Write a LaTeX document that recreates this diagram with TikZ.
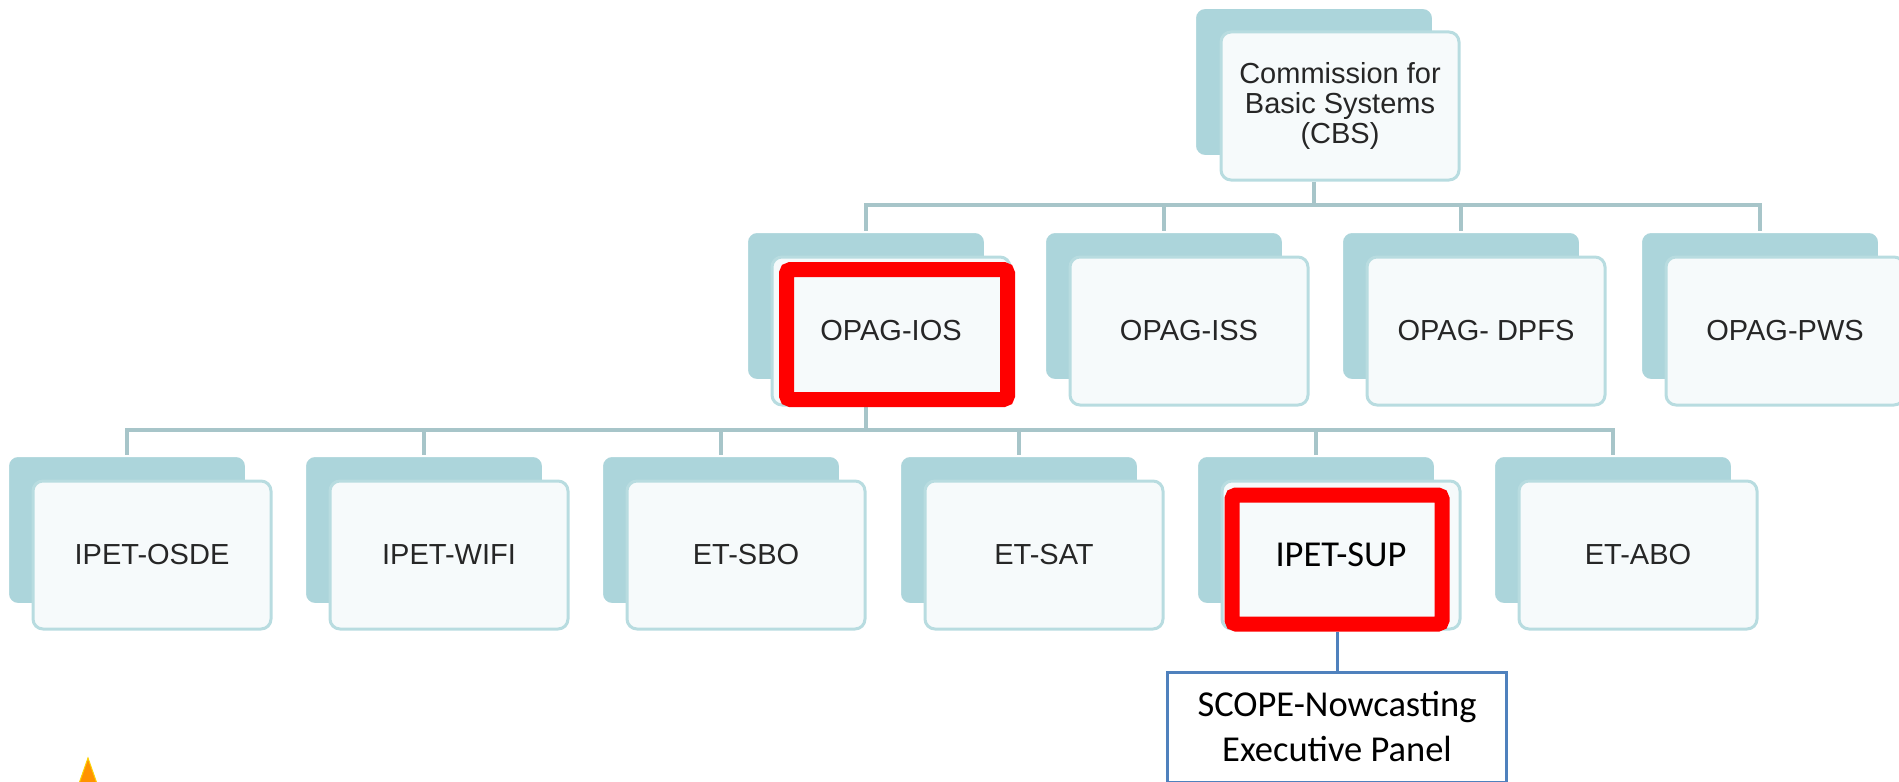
\documentclass[tikz,border=0pt]{standalone}
\usepackage{fontspec}
\setmainfont{Liberation Sans}
\newfontfamily\calibrifont{Carlito}
\usetikzlibrary{positioning, calc}

\definecolor{backteal}{HTML}{ACD5DB}
\definecolor{frontline}{HTML}{B8DCE0}
\definecolor{frontfill}{HTML}{F6FAFB}
\definecolor{connline}{HTML}{A7C5C9}
\definecolor{panelblue}{HTML}{4F81BD}

\begin{document}
\begin{tikzpicture}[x=0.5pt, y=-0.5pt,
    back/.style={rounded corners=5pt, fill=backteal, draw=white, line width=1pt,
        minimum width=119pt, minimum height=74pt, inner sep=0pt},
    front/.style={rounded corners=5pt, fill=frontfill, draw=frontline, line width=1.5pt,
        minimum width=119pt, minimum height=74pt, inner sep=0pt, align=center,
        text=black!85, font=\fontsize{14.5}{15}\selectfont},
    conn/.style={draw=connline, line width=2pt},
    redbox/.style={draw=red, line width=7.5pt, rounded corners=2pt, inner sep=0pt}]
    \useasboundingbox (0,0) rectangle (1899,781);
    \clip (0,0) rectangle (1899,781);

    % Bus lines
    \coordinate (bus1) at (1314,205);
    \coordinate (bus2) at (866,430);

    % Level 1: CBS
    \node[back] (cbsB) at (1314,82) {};
    \node[front] (cbsF) at (1340,106) {Commission for\\Basic Systems\\(CBS)};

    % Level 2: OPAGs
    \node[back] (iosB) at (866,306) {};
    \node[back] (issB) at (1164,306) {};
    \node[back] (dpfsB) at (1461,306) {};
    \node[back] (pwsB) at (1760,306) {};

    \draw[conn] (cbsB |- cbsF.south) -- (bus1) -| (iosB.north);
    \draw[conn] (bus1) -| (issB.north);
    \draw[conn] (bus1) -| (dpfsB.north);
    \draw[conn] (bus1) -| (pwsB.north);

    \node[front] (iosF) at (891,331) {OPAG-IOS};
    \node[front] (issF) at (1189,331) {OPAG-ISS};
    \node[front] (dpfsF) at (1486,331) {OPAG- DPFS};
    \node[front] (pwsF) at (1785,331) {OPAG-PWS};

    % Level 3: teams
    \node[back] (osdeB) at (127,530) {};
    \node[back] (wifiB) at (424,530) {};
    \node[back] (sboB) at (721,530) {};
    \node[back] (satB) at (1019,530) {};
    \node[back] (supB) at (1316,530) {};
    \node[back] (aboB) at (1613,530) {};

    \draw[conn] (iosB |- iosF.south) -- (bus2) -| (osdeB.north);
    \draw[conn] (bus2) -| (wifiB.north);
    \draw[conn] (bus2) -| (sboB.north);
    \draw[conn] (bus2) -| (satB.north);
    \draw[conn] (bus2) -| (supB.north);
    \draw[conn] (bus2) -| (aboB.north);

    \node[front] (osdeF) at (152,555) {IPET-OSDE};
    \node[front] (wifiF) at (449,555) {IPET-WIFI};
    \node[front] (sboF) at (746,555) {ET-SBO};
    \node[front] (satF) at (1044,555) {ET-SAT};
    \node[front, font=\calibrifont\fontsize{18.25}{20}\selectfont, text=black] (supF) at (1341,555) {IPET-SUP};
    \node[front] (aboF) at (1638,555) {ET-ABO};

    % Highlights
    \node[redbox, minimum width=110.5pt, minimum height=65pt] (iosR) at (897,334.5) {};
    \node[redbox, minimum width=105pt, minimum height=64.5pt] (supR) at (1337,559.5) {};

    % Nowcasting panel
    \node[draw=panelblue, line width=1.5pt, minimum width=169.5pt, minimum height=55pt,
        align=center, font=\calibrifont\fontsize{18.25}{22.5}\selectfont] (scope) at (1337,727)
        {SCOPE-Nowcasting\\Executive Panel};
    \draw[panelblue, line width=1.5pt] (supR.south) -- (scope.north);

    % Warning sign (cut off)
    \fill[orange!85!yellow, draw=yellow!70!orange, line width=0.5pt] (88,758) -- (101,795) -- (75,795) -- cycle;
\end{tikzpicture}
\end{document}
